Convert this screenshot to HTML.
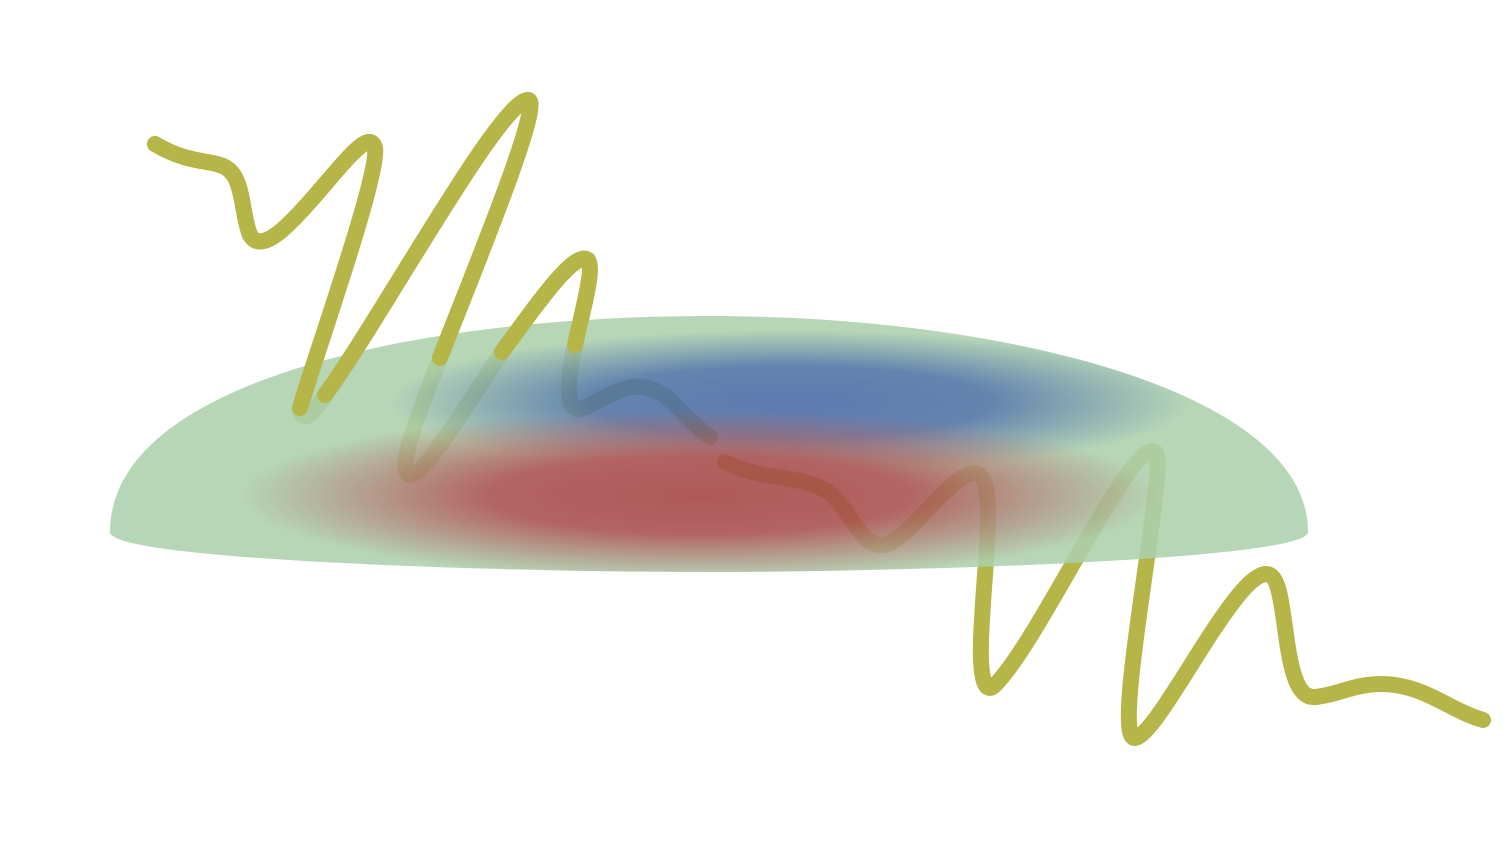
<!DOCTYPE html>
<html><head><meta charset="utf-8"><style>html,body{margin:0;padding:0;background:#fff}svg{display:block}</style></head>
<body>
<svg width="1511" height="850" viewBox="0 0 1511 850">
<defs>
<radialGradient id="blue" cx="0.5" cy="0.5" r="0.5">
<stop offset="0" stop-color="#4868a6" stop-opacity="1"/>
<stop offset="0.5" stop-color="#4b6ea4" stop-opacity="0.95"/>
<stop offset="1" stop-color="#4d70a3" stop-opacity="0"/>
</radialGradient>
<radialGradient id="red" cx="0.5" cy="0.5" r="0.5">
<stop offset="0" stop-color="#a54343" stop-opacity="1"/>
<stop offset="0.45" stop-color="#a84848" stop-opacity="0.95"/>
<stop offset="1" stop-color="#a84a4a" stop-opacity="0"/>
</radialGradient>
<clipPath id="discclip"><path d="M110,532 C110,380 420,316 710,316 C1000,316 1308,390 1308,532 C1308,560 900,572 710,572 C500,572 110,560 110,532 Z"/></clipPath>
</defs>
<g fill="none" stroke="#b5b548" stroke-width="16" stroke-linecap="round">
<path d="M155,144 C185,162 205,160 220,165 C245,172 240,210 250,235 C262,255 290,225 320,190 C350,155 370,130 375,148 C380,175 310,370 300,410 C305,425 315,410 325,395 C380,320 500,100 528,100 C545,100 470,280 440,358 C420,410 395,470 410,475 C425,475 470,400 502,352 C540,300 575,250 588,260 C595,270 580,320 575,345 C565,390 565,420 590,405 C620,390 640,375 670,400 C690,420 700,430 710,437"/>
<path d="M725,462 C760,480 800,475 825,490 C850,505 860,550 885,545 C910,540 960,460 980,475 C995,490 985,560 982,620 C978,680 985,695 995,685 C1040,640 1130,440 1155,452 C1170,460 1110,740 1135,738 C1160,735 1240,560 1270,575 C1290,585 1280,700 1315,697 C1340,695 1360,680 1395,685 C1430,690 1450,710 1483,720"/>
</g>
<g opacity="0.88">
<path d="M110,532 C110,380 420,316 710,316 C1000,316 1308,390 1308,532 C1308,560 900,572 710,572 C500,572 110,560 110,532 Z" fill="#acd1ad"/>
<g clip-path="url(#discclip)">
<ellipse cx="790" cy="402" rx="400" ry="72" fill="url(#blue)"/>
<ellipse cx="700" cy="495" rx="460" ry="85" fill="url(#red)"/>
</g>
</g>
<g fill="none" stroke="#b5b548" stroke-width="16" stroke-linecap="round">
<path d="M155,144 C185,162 205,160 220,165 C245,172 240,210 250,235 C262,255 290,225 320,190 C350,155 370,130 375,148 C380,175 310,370 300,408"/>
<path d="M325,395 C380,320 500,100 528,100 C545,100 470,280 440,358"/>
<path d="M502,352 C540,300 575,250 588,260 C595,270 580,320 575,345"/>
</g>
</svg>
</body></html>
